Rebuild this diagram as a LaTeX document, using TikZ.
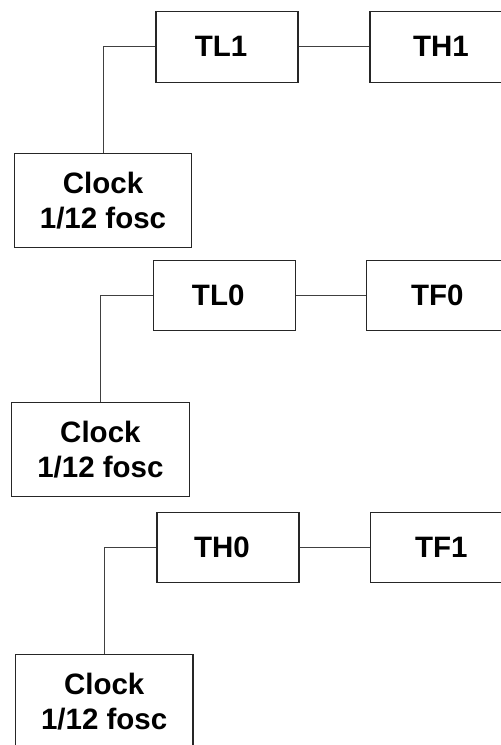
\documentclass[tikz,border=0pt]{standalone}
\usepackage{fontspec}
\setmainfont{Liberation Sans}
\begin{document}
\begin{tikzpicture}[x=1pt,y=-1pt,
  every node/.style={font=\fontsize{29.5}{35}\selectfont\bfseries, text=black},
  regbox/.style={draw=black!85, line width=1.1pt, minimum width=142pt, minimum height=70.5pt, inner sep=0pt},
  clockbox/.style={regbox, minimum width=177.5pt, minimum height=94pt, align=center},
  wire/.style={draw=black!75, line width=1pt}]
\useasboundingbox (0,0) rectangle (501,745);

% Timer 1
\node[regbox]   (TL1) at (227,46.8)   {TL1\kern12pt};
\node[regbox]   (TH1) at (441,46.8)   {TH1};
\node[clockbox] (C1)  at (103,200.5)  {Clock\\1/12 fosc};
\draw[wire] (C1.north) |- (TL1.west);
\draw[wire] (TL1.east) -- (TH1.west);

% Timer 0
\node[regbox]   (TL0) at (224.2,295.5) {TL0\kern12pt};
\node[regbox]   (TF0) at (437.3,295.5) {TF0};
\node[clockbox] (C2)  at (100.4,449.7) {Clock\\1/12 fosc};
\draw[wire] (C2.north) |- (TL0.west);
\draw[wire] (TL0.east) -- (TF0.west);

% Timer 0 high byte
\node[regbox]   (TH0) at (228,547.3)  {TH0\kern12pt};
\node[regbox]   (TF1) at (441.3,547.3) {TF1};
\node[clockbox] (C3)  at (104.2,701.3) {Clock\\1/12 fosc};
\draw[wire] (C3.north) |- (TH0.west);
\draw[wire] (TH0.east) -- (TF1.west);
\end{tikzpicture}
\end{document}
